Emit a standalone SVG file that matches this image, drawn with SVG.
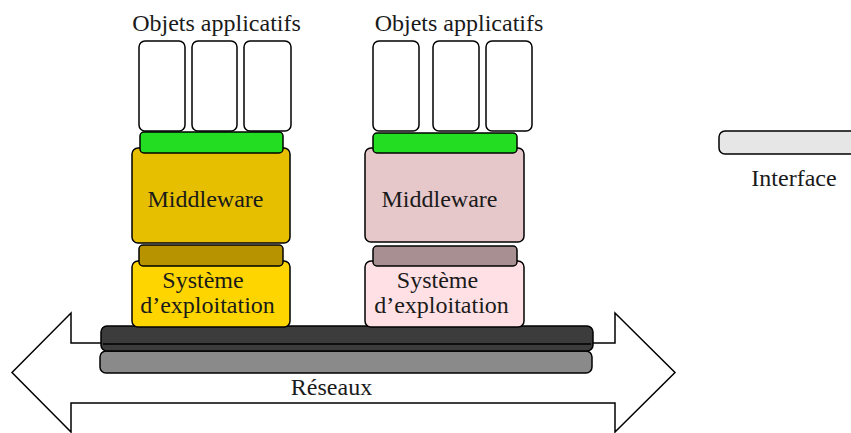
<svg xmlns="http://www.w3.org/2000/svg" width="851" height="433" viewBox="0 0 851 433">
<style>
text{font-family:"Liberation Serif","Times New Roman",serif;font-size:24px;fill:#1a1a1a}
.c{text-anchor:middle}
.s{stroke:#000;stroke-width:1.5}
.obj{fill:#fff}
.green{fill:#22dd22}
</style>
<rect width="851" height="433" fill="#fff"/>
<g id="reseaux">
<polygon class="s" fill="#fff" points="12,372.5 71,313 71,343 615,343 615,313 675,372.5 615,432 615,403 71,403 71,432"/>
<rect class="s" x="100" y="351" width="492" height="22" rx="6" fill="#8a8a8a"/>
<rect class="s" x="101" y="326" width="492" height="25" rx="6" fill="#3c3c3c"/>
<line x1="103" y1="344" x2="591" y2="344" stroke="#000" stroke-width="1.5"/>
<text class="c" x="331.5" y="395">Réseaux</text>
</g>
<g id="stack-left">
<text class="c" x="216.5" y="31">Objets applicatifs</text>
<rect class="s obj" x="139" y="41" width="46" height="90" rx="6"/>
<rect class="s obj" x="192" y="41" width="45" height="90" rx="6"/>
<rect class="s obj" x="244" y="41" width="47" height="90" rx="6"/>
<rect class="s" x="132" y="148" width="158" height="95" rx="6" fill="#e6c000"/>
<rect class="s green" x="140" y="132" width="143" height="21" rx="4"/>
<rect class="s" x="132" y="261" width="158" height="66" rx="6" fill="#ffd500"/>
<rect class="s" x="139" y="245" width="144" height="21" rx="4" fill="#b89300"/>
<text class="c" x="205.5" y="207">Middleware</text>
<text class="c" x="203" y="288">Système</text>
<text class="c" x="207.5" y="313">d’exploitation</text>
</g>
<g id="stack-right">
<text class="c" x="459" y="31">Objets applicatifs</text>
<rect class="s obj" x="373" y="41" width="46" height="90" rx="6"/>
<rect class="s obj" x="433" y="41" width="46" height="90" rx="6"/>
<rect class="s obj" x="486" y="41" width="46" height="90" rx="6"/>
<rect class="s" x="365" y="148" width="159" height="94" rx="6" fill="#e6c8cb"/>
<rect class="s green" x="373" y="133" width="144" height="20" rx="4"/>
<rect class="s" x="365" y="261" width="159" height="66" rx="6" fill="#ffe1e5"/>
<rect class="s" x="373" y="246" width="144" height="20" rx="4" fill="#a89092"/>
<text class="c" x="439.5" y="207">Middleware</text>
<text class="c" x="437.5" y="288">Système</text>
<text class="c" x="441.5" y="313">d’exploitation</text>
</g>
<g id="interface">
<rect class="s" x="719" y="131" width="150" height="23" rx="6" fill="#e6e6e6"/>
<text class="c" x="794" y="186">Interface</text>
</g>
<g id="connectors"></g>
</svg>
